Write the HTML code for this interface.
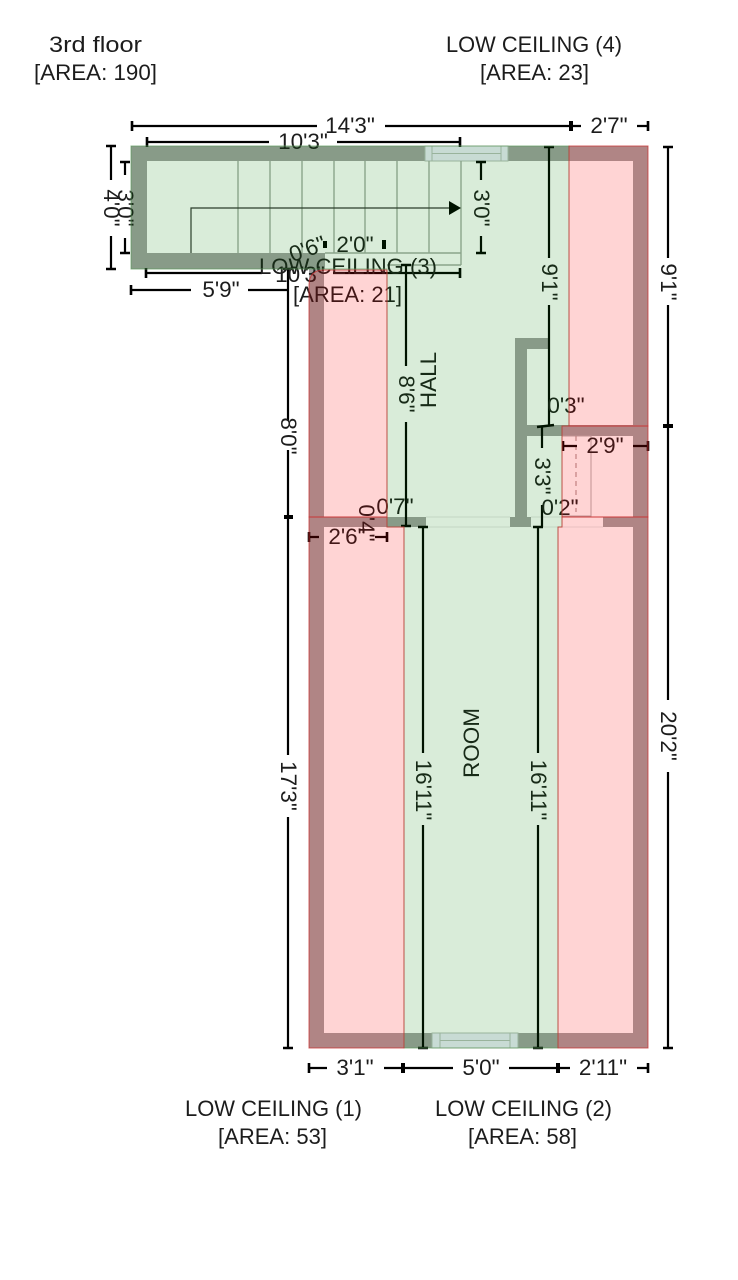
<!DOCTYPE html>
<html><head><meta charset="utf-8"><style>
html,body{margin:0;padding:0;background:#fff;width:738px;height:1280px;overflow:hidden}
svg{display:block}
text{font-family:"Liberation Sans",sans-serif;font-size:22.500px;fill:#1c1c1c;text-anchor:middle}
.d{stroke:#000;stroke-width:2.200;fill:none}
.k{stroke:#000;stroke-width:2.600;fill:none}
.t{stroke:#000;stroke-width:4;fill:none}
.s{stroke:#a3aba3;stroke-width:1.400;fill:none}
</style></head><body>
<svg width="738" height="1280" viewBox="0 0 738 1280" xmlns="http://www.w3.org/2000/svg">
<rect width="738" height="1280" fill="#fff"/>
<!-- walls -->
<g fill="#a0a0a0">
<rect x="131" y="146" width="517" height="15"/>
<rect x="131" y="146" width="16" height="123"/>
<rect x="131" y="253" width="194" height="16"/>
<rect x="309" y="265" width="15" height="783"/>
<rect x="633" y="146" width="15" height="902"/>
<rect x="309" y="1033" width="339" height="15"/>
<rect x="309" y="517" width="117" height="10"/>
<rect x="510" y="517" width="21" height="10"/>
<rect x="603" y="517" width="30" height="10"/>
<rect x="515" y="338" width="12" height="180"/>
<rect x="515" y="338" width="34" height="11"/>
<rect x="515" y="425" width="118" height="11"/>
</g>
<!-- windows -->
<g fill="#ebecfa" stroke="#b4bdb8" stroke-width="1">
<rect x="425" y="146" width="83" height="15"/>
<rect x="432" y="146" width="69" height="15"/>
<path d="M432 153.500H501"/>
<rect x="432" y="1033" width="86" height="15"/>
<rect x="440" y="1033" width="70" height="15"/>
<path d="M440 1040.500H510"/>
</g>
<!-- stairs -->
<path class="s" d="M238 161V253M270 161V253M302 161V253M334 161V253M365 161V253M397 161V253M429 161V253M461 161V265M325 253H461M387 265H461"/>
<path d="M191 253V208H450" fill="none" stroke="#333" stroke-width="1.200"/>
<path d="M449 201L461 208L449 215Z" fill="#000"/>
<!-- door details -->
<path d="M562 436H591V516H562" fill="none" stroke="#b5b0b0" stroke-width="1"/>
<path d="M576 436V512" stroke="#b59a9a" stroke-width="1.200" stroke-dasharray="5 4" fill="none"/>
<path d="M426 517H510M426 527H510M531 517H603M531 527H603" stroke="#e6e6e6" stroke-width="1" fill="none"/>
<!-- dimension lines -->
<path class="d" d="M132 126H317M385 126H571M571 126H581M637 126H648"/>
<path class="d" d="M147 142H269M337 142H460"/>
<path class="d" d="M111 146V180M111 236V269"/>
<path class="d" d="M125 162V175M125 238V253"/>
<path class="d" d="M481 162V180M481 236V253"/>
<path class="d" d="M131 290H191M248 290H289"/>
<path class="d" d="M146 273H262M333 273H460"/>
<path class="d" d="M288 269V421M288 450V755M288 817V1048"/>
<path class="d" d="M406 265V366M406 422V526"/>
<path class="d" d="M549 147V258M549 305V426"/>
<path class="d" d="M668 147V258M668 305V700M668 772V1048"/>
<path class="d" d="M542 426V448M542 505V527"/>
<path class="d" d="M423 527V753M423 825V1048"/>
<path class="d" d="M538 527V753M538 825V1048"/>
<path class="d" d="M563 446H577M633 446H648"/>
<path class="d" d="M309 537H319M375 537H387"/>
<path class="d" d="M309 1068H327M384 1068H453M509 1068H570M637 1068H648"/>
<!-- ticks -->
<path class="k" d="M132 121V131M648 121V131M147 137V147M460 137V147M131 285V295M146 268V278M460 268V278
M106 146H116M106 269H116M120 162H130M120 253H130M476 162H486M476 253H486M283 269H293M401 265H411
M544 147H554M663 147H673M309 532V542M387 532V542M309 1063V1073M648 1063V1073M283 1048H293M663 1048H673
M418 1048H428M533 1048H543M418 527H428M533 527H543M401 526H411M537 427L554 425M648 441V451M563 441V451"/>
<path class="t" d="M571 121V131M403 1063V1073M558 1063V1073M284 517H293M663 426H673M325 241V248M384 240V249"/>
<!-- labels -->
<text x="95.500" y="52" textLength="93" lengthAdjust="spacingAndGlyphs">3rd floor</text>
<text x="95.500" y="80" textLength="123" lengthAdjust="spacingAndGlyphs">[AREA: 190]</text>
<text x="534" y="52" textLength="176" lengthAdjust="spacingAndGlyphs">LOW CEILING (4)</text>
<text x="534.500" y="80" textLength="109" lengthAdjust="spacingAndGlyphs">[AREA: 23]</text>
<text x="273.500" y="1116" textLength="177" lengthAdjust="spacingAndGlyphs">LOW CEILING (1)</text>
<text x="272.500" y="1144" textLength="109" lengthAdjust="spacingAndGlyphs">[AREA: 53]</text>
<text x="523.500" y="1116" textLength="177" lengthAdjust="spacingAndGlyphs">LOW CEILING (2)</text>
<text x="522.500" y="1144" textLength="109" lengthAdjust="spacingAndGlyphs">[AREA: 58]</text>
<text x="348" y="274" textLength="178" lengthAdjust="spacingAndGlyphs">LOW CEILING (3)</text>
<text x="347.500" y="302" textLength="109" lengthAdjust="spacingAndGlyphs">[AREA: 21]</text>
<g style="font-size:20.500px">
<text x="350" y="133">14'3"</text>
<text x="609" y="133">2'7"</text>
<text x="303" y="149">10'3"</text>
<text x="221" y="297">5'9"</text>
<text x="300" y="282">10'3"</text>
<text x="355" y="252">2'0"</text>
<text transform="translate(310,256) rotate(-20)" x="0" y="0">0'6"</text>
<text x="395" y="514">0'7"</text>
<text x="566" y="413">0'3"</text>
<text x="560" y="515">0'2"</text>
<text x="605" y="453">2'9"</text>
<text x="347" y="544">2'6"</text>
<text x="355" y="1075">3'1"</text>
<text x="481" y="1075">5'0"</text>
<text x="603" y="1075">2'11"</text>
<text transform="translate(104,208) rotate(90)">4'0"</text>
<text transform="translate(118,208) rotate(90)">3'0"</text>
<text transform="translate(474,208) rotate(90)">3'0"</text>
<text transform="translate(542,282) rotate(90)">9'1"</text>
<text transform="translate(661,282) rotate(90)">9'1"</text>
<text transform="translate(661,736) rotate(90)">20'2"</text>
<text transform="translate(281,436) rotate(90)">8'0"</text>
<text transform="translate(281,786) rotate(90)">17'3"</text>
<text transform="translate(399,394) rotate(90)">8'6"</text>
<text transform="translate(535,476) rotate(90)">3'3"</text>
<text transform="translate(416,790) rotate(90)">16'11"</text>
<text transform="translate(531,790) rotate(90)">16'11"</text>
<text transform="translate(359,523) rotate(90)">0'4"</text>
<text transform="translate(436,380) rotate(-90)" style="font-size:22.500px">HALL</text>
<text transform="translate(479,743) rotate(-90)" style="font-size:22.500px">ROOM</text>
</g>
<!-- coloured overlays -->
<path d="M131 146H569V426H562V527H558V1048H404V527H387V269H131Z" fill="#008000" fill-opacity=".15" stroke="#5e9a5e" stroke-width="1" stroke-opacity=".7"/>
<g fill="#ff0000" fill-opacity=".17" stroke="#c83232" stroke-width="1" stroke-opacity=".75">
<path d="M309 285Q309 270 324 270H387V517H309Z"/>
<path d="M309 517H387V527H404V1048H309Z"/>
<path d="M562 517H648V1048H558V527H562Z"/>
<path d="M569 146H648V426H569Z"/>
<path d="M562 426H648V517H562Z"/>
</g>
</svg>
</body></html>
